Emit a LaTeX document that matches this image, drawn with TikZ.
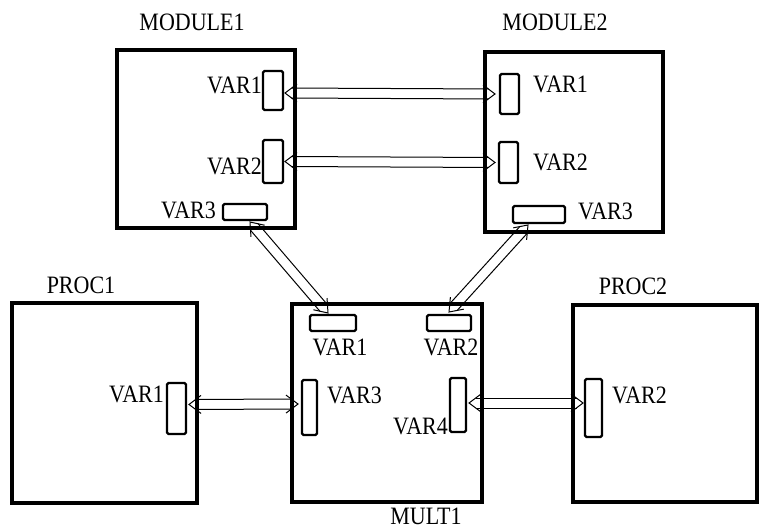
\documentclass[tikz,border=0pt]{standalone}
\usepackage{fontspec}
\setmainfont{Liberation Serif}[FakeStretch=0.88]
\usetikzlibrary{calc}
\tikzset{
  bigbox/.style={draw, line width=3.3pt, inner sep=0pt, outer sep=0pt},
  varbox/.style={draw, line width=2.2pt, rounded corners=1.5pt, inner sep=0pt, outer sep=0pt},
  lbl/.style={inner sep=0pt, font=\fontsize{25}{28}\selectfont},
  conn/.style={line width=1pt, line join=miter},
}
\newcommand\twoway[2]{%
  \coordinate (tA) at (#1);
  \coordinate (tB) at (#2);
  \draw[conn] ($(tA)!12pt!(tB)!9pt!90:(tB)$) -- (tA) -- ($(tA)!12pt!(tB)!9pt!-90:(tB)$);
  \draw[conn] ($(tB)!12pt!(tA)!9pt!90:(tA)$) -- (tB) -- ($(tB)!12pt!(tA)!9pt!-90:(tA)$);
  \draw[conn] ($(tA)!6.5pt!(tB)!5pt!90:(tB)$) -- ($(tB)!6.5pt!(tA)!5pt!-90:(tA)$);
  \draw[conn] ($(tA)!6.5pt!(tB)!5pt!-90:(tB)$) -- ($(tB)!6.5pt!(tA)!5pt!90:(tA)$);
}
\begin{document}
\begin{tikzpicture}[x=1pt, y=-1pt]
\useasboundingbox[fill=white] (0,0) rectangle (763,529);

% big boxes
\node[bigbox, minimum width=178pt, minimum height=178pt] (m1) at (206,139) {};
\node[bigbox, minimum width=178pt, minimum height=180pt] (m2) at (574,142) {};
\node[bigbox, minimum width=185pt, minimum height=200pt] (p1) at (104.5,403) {};
\node[bigbox, minimum width=190pt, minimum height=198pt] (mu) at (387,403) {};
\node[bigbox, minimum width=184pt, minimum height=197pt] (p2) at (665,403.5) {};

% titles
\node[lbl] (m1t) at (192,22) {MODULE1};
\node[lbl] (m2t) at (555,22) {MODULE2};
\node[lbl] (p1t) at (81,285) {PROC1};
\node[lbl] (p2t) at (633,286) {PROC2};
\node[lbl] (mut) at (426,516) {MULT1};

% variable rectangles
\node[varbox, minimum width=20pt, minimum height=39pt] (m1v1) at (273,90.5) {};
\node[varbox, minimum width=20pt, minimum height=43pt] (m1v2) at (273,161.5) {};
\node[varbox, minimum width=44pt, minimum height=16pt] (m1v3) at (245,212) {};
\node[varbox, minimum width=19pt, minimum height=40pt] (m2v1) at (509.5,94) {};
\node[varbox, minimum width=19pt, minimum height=41pt] (m2v2) at (508.5,162.5) {};
\node[varbox, minimum width=52pt, minimum height=17pt] (m2v3) at (539,214.5) {};
\node[varbox, minimum width=19pt, minimum height=51pt] (p1v1) at (176.5,408.5) {};
\node[varbox, minimum width=46pt, minimum height=16pt] (x1) at (333,323) {};
\node[varbox, minimum width=44pt, minimum height=16pt] (x2) at (449,323) {};
\node[varbox, minimum width=15pt, minimum height=55pt] (x3) at (309.5,407.5) {};
\node[varbox, minimum width=16pt, minimum height=54pt] (x4) at (458,405) {};
\node[varbox, minimum width=17pt, minimum height=58pt] (p2v2) at (593.5,408) {};

% variable labels
\node[lbl, anchor=east] (m1v1l) at (262,85) {VAR1};
\node[lbl, anchor=east] (m1v2l) at (262,166) {VAR2};
\node[lbl, anchor=east] (m1v3l) at (216,210) {VAR3};
\node[lbl, anchor=west] (m2v1l) at (533,84) {VAR1};
\node[lbl, anchor=west] (m2v2l) at (533,162) {VAR2};
\node[lbl, anchor=west] (m2v3l) at (578,211) {VAR3};
\node[lbl, anchor=east] (p1v1l) at (164,394) {VAR1};
\node[lbl] (x1l) at (340,347) {VAR1};
\node[lbl] (x2l) at (451,347) {VAR2};
\node[lbl, anchor=west] (x3l) at (327,395) {VAR3};
\node[lbl, anchor=east] (x4l) at (448,426) {VAR4};
\node[lbl, anchor=west] (p2v2l) at (612,395) {VAR2};

% connectors
\twoway{[xshift=2pt,yshift=-2.5pt]m1v1.east}{[xshift=-5pt]m2v1.west}
\twoway{[xshift=2pt]m1v2.east}{[xshift=-4pt]m2v2.west}
\twoway{[xshift=3pt,yshift=4pt]p1v1.east}{[xshift=-4pt,yshift=3.5pt]x3.west}
\twoway{[xshift=3pt,yshift=2pt]x4.east}{[xshift=-2pt,yshift=5pt]p2v2.west}
\twoway{[xshift=5pt,yshift=-2pt]m1v3.south}{[xshift=-5pt,yshift=2pt]x1.north}
\twoway{[xshift=-11pt,yshift=-2pt]m2v3.south}{[yshift=3pt]x2.north}
\end{tikzpicture}
\end{document}
